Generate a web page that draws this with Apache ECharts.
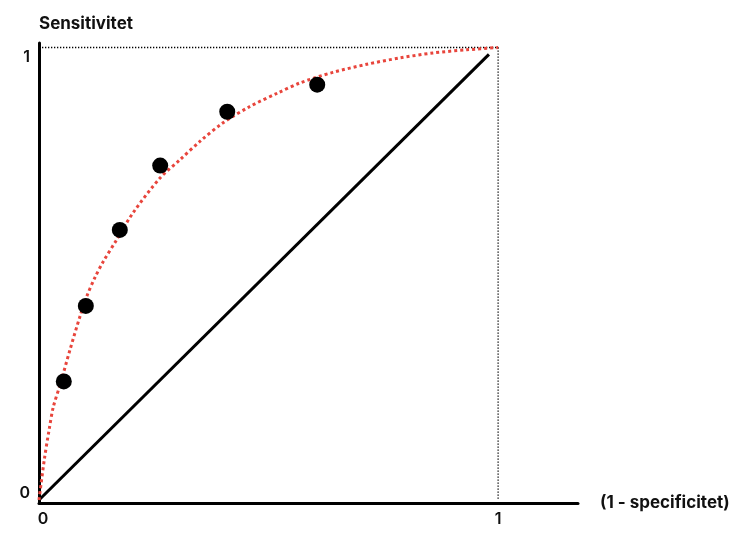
<!DOCTYPE html>
<html>
<head>
<meta charset="utf-8">
<script src="https://cdn.jsdelivr.net/npm/echarts@6/dist/echarts.min.js"></script>
<style>
  html, body { margin: 0; padding: 0; background: #fff; }
  #chart { width: 753px; height: 542px; }
</style>
</head>
<body>
<div id="chart"></div>
<script>
// ---- data ----
var xTickLabels = [0, 1];
var yTickLabels = [0, 1];
var xAxisTitle = '(1 - specificitet)';
var yAxisTitle = 'Sensitivitet';

// observed ROC points (1 - specificity, sensitivity)
var pointX = [0.054, 0.102, 0.176, 0.264, 0.41, 0.606];
var pointY = [0.262, 0.429, 0.597, 0.739, 0.858, 0.918];

// fitted ROC curve
var curveX = [0, 0.0115, 0.022, 0.031, 0.046, 0.0675, 0.089, 0.104, 0.122, 0.14, 0.169, 0.205, 0.264, 0.307, 0.351, 0.40, 0.46, 0.521, 0.569, 0.64, 0.714, 0.786, 0.858, 0.932, 1];
var curveY = [0, 0.089, 0.155, 0.205, 0.255, 0.332, 0.405, 0.45, 0.492, 0.527, 0.575, 0.635, 0.712, 0.752, 0.793, 0.833, 0.870, 0.900, 0.922, 0.945, 0.963, 0.977, 0.988, 0.995, 1];

// chance diagonal
var diagX = [0, 0.98];
var diagY = [0, 0.985];

// frame (dotted top & right edges)
var frameX = [0, 1, 1];
var frameY = [1, 1, 0];

function zip(a, b) { return a.map(function (v, i) { return [v, b[i]]; }); }

var FONT = 'Inter, "Noto Sans", sans-serif';

var chart = echarts.init(document.getElementById('chart'), null, { renderer: 'canvas' });
chart.setOption({
  animation: false,
  backgroundColor: '#ffffff',
  grid: { left: 39, right: 175, top: 43, bottom: 39, containLabel: false },
  xAxis: {
    type: 'value',
    min: 0,
    max: 1.174,
    name: xAxisTitle,
    nameLocation: 'end',
    nameGap: 22,
    nameTextStyle: { fontFamily: FONT, fontSize: 17, fontWeight: 'bold', color: '#111', verticalAlign: 'middle' },
    axisLine: { show: true, onZero: false, lineStyle: { color: '#000', width: 3 } },
    axisTick: { show: false },
    splitLine: { show: false },
    axisLabel: {
      customValues: xTickLabels,
      margin: 8,
      fontFamily: FONT,
      fontSize: 16,
      fontWeight: 600,
      color: '#111',
      formatter: function (v) { return v === 0 ? '{z|0}' : '{o|' + v + '}'; },
      rich: {
        z: { fontFamily: FONT, fontSize: 16, fontWeight: 600, color: '#111', padding: [0, 0, 0, 8] },
        o: { fontFamily: FONT, fontSize: 16, fontWeight: 600, color: '#111' }
      }
    }
  },
  yAxis: {
    type: 'value',
    min: -0.0066,
    max: 1.01,
    name: yAxisTitle,
    nameLocation: 'end',
    nameGap: 11,
    nameTextStyle: { fontFamily: FONT, fontSize: 17, fontWeight: 'bold', color: '#111', align: 'left', verticalAlign: 'bottom' },
    axisLine: { show: true, onZero: false, lineStyle: { color: '#000', width: 3 } },
    axisTick: { show: false },
    splitLine: { show: false },
    axisLabel: {
      customValues: yTickLabels,
      margin: 9,
      fontFamily: FONT,
      fontSize: 16,
      fontWeight: 600,
      color: '#111',
      formatter: function (v) { return v === 1 ? '{t|1}' : '{b|0}'; },
      rich: {
        t: { fontFamily: FONT, fontSize: 16, fontWeight: 600, color: '#111', padding: [20, 0, 0, 0] },
        b: { fontFamily: FONT, fontSize: 16, fontWeight: 600, color: '#111', padding: [0, 0, 14, 0] }
      }
    }
  },
  series: [
    {
      type: 'line',
      data: zip(frameX, frameY),
      symbol: 'none',
      silent: true,
      lineStyle: { color: '#000', width: 1.3, type: [1.3, 1.7], opacity: 1 },
      z: 1
    },
    {
      type: 'line',
      data: zip(diagX, diagY),
      symbol: 'none',
      silent: true,
      lineStyle: { color: '#000', width: 3 },
      z: 2
    },
    {
      type: 'line',
      data: zip(curveX, curveY),
      symbol: 'none',
      smooth: 0.3,
      silent: true,
      lineStyle: { color: '#e8453c', width: 3, type: [3, 3], cap: 'butt' },
      z: 3
    },
    {
      type: 'scatter',
      data: zip(pointX, pointY),
      symbol: 'circle',
      symbolSize: 16,
      itemStyle: { color: '#000', opacity: 1 },
      z: 4
    }
  ]
});
</script>
</body>
</html>
